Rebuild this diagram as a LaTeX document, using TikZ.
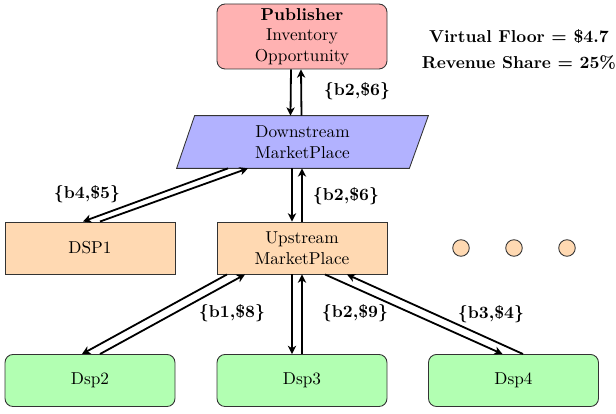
\documentclass[tikz,border=0pt]{standalone}
\usetikzlibrary{calc,backgrounds,arrows.meta}
\begin{document}
\begin{tikzpicture}[x=0.58pt,y=-0.58pt,
  box/.style={draw=black!80,line width=0.5pt,align=center,inner sep=0pt},
  pubbox/.style={box,fill=red!30,rounded corners=4.7pt,minimum width=98.6pt,minimum height=37.7pt},
  midbox/.style={box,fill=orange!30,minimum width=98.6pt,minimum height=30.2pt},
  dspbox/.style={box,fill=green!30,rounded corners=4.7pt,minimum width=98.6pt,minimum height=30.2pt},
  dotc/.style={draw=black!80,line width=0.5pt,fill=orange!30,circle,minimum size=9.6pt,inner sep=0pt},
  conn/.style={-{Stealth[length=4.8pt,width=4.8pt,inset=1.4pt]},line width=1.05pt},
  lab/.style={font=\bfseries}]
\useasboundingbox (0,0) rectangle (616,414);
\node[pubbox] (pub) at (302,36.5) {\textbf{Publisher}\\Inventory\\Opportunity};
\node[lab] (vf) at (519,37) {Virtual Floor = \$4.7};
\node[lab] (rs) at (519,63) {Revenue Share = 25\%};
\node[align=center,minimum width=134.6pt,minimum height=30.2pt,inner sep=0pt] (dm) at (302.5,142) {Downstream\\MarketPlace};
\begin{scope}[on background layer]
\draw[line width=0.5pt,draw=black!80,fill=blue!30] ($(dm.south west)+(-9.5,0)$) -- ($(dm.south east)+(-9.5,0)$) -- ($(dm.north east)+(9.5,0)$) -- ($(dm.north west)+(8.5,0)$) -- cycle;
\end{scope}
\node[midbox] (dsp1) at (90,248) {DSP1};
\node[midbox] (us) at (302,248) {Upstream\\MarketPlace};
\node[dspbox] (d2) at (90,380.5) {Dsp2};
\node[dspbox] (d3) at (302,380.5) {Dsp3};
\node[dspbox] (d4) at (513.5,380.5) {Dsp4};
\node[dotc] (c1) at (461,248) {};
\node[dotc] (c2) at (514,248) {};
\node[dotc] (c3) at (567,248) {};
% publisher <-> downstream
\draw[conn] ($(pub.south)+(-11,0)$) -- ($(dm.north)+(-12,0)$);
\draw[conn] ($(dm.north)+(-1,0)$) -- ($(pub.south)+(-1,0)$);
\node[lab] (l1) at (357,91) {\{b2,\$6\}};
% downstream <-> upstream
\draw[conn] ($(dm.south)+(-10.5,0)$) -- ($(us.north)+(-10,0)$);
\draw[conn] ($(us.north)+(0,0)$) -- ($(dm.south)+(-0.5,0)$);
\node[lab] (l2) at (346,196) {\{b2,\$6\}};
% downstream <-> dsp1
\draw[conn] ($(dm.south)+(-74.5,0)$) -- ($(dsp1.north)+(-7,0)$);
\draw[conn] ($(dsp1.north)+(10,0)$) -- ($(dm.south)+(-54.5,0)$);
\node[lab] (l3) at (87,194) {\{b4,\$5\}};
% upstream <-> dsp2
\draw[conn] ($(us.south)+(-75,0)$) -- ($(d2.north)+(-8,0)$);
\draw[conn] ($(d2.north)+(10,0)$) -- ($(us.south)+(-57,0)$);
\node[lab] (l4) at (232,313) {\{b1,\$8\}};
% upstream <-> dsp3
\draw[conn] ($(us.south)+(-10,0)$) -- ($(d3.north)+(-10,0)$);
\draw[conn] ($(d3.north)+(0,0)$) -- ($(us.south)+(0,0)$);
\node[lab] (l5) at (355,313) {\{b2,\$9\}};
% upstream <-> dsp4
\draw[conn] ($(us.south)+(23,0)$) -- ($(d4.north)+(-11,0)$);
\draw[conn] ($(d4.north)+(9.5,0)$) -- ($(us.south)+(45,0)$);
\node[lab] (l6) at (491,314) {\{b3,\$4\}};
\end{tikzpicture}
\end{document}
